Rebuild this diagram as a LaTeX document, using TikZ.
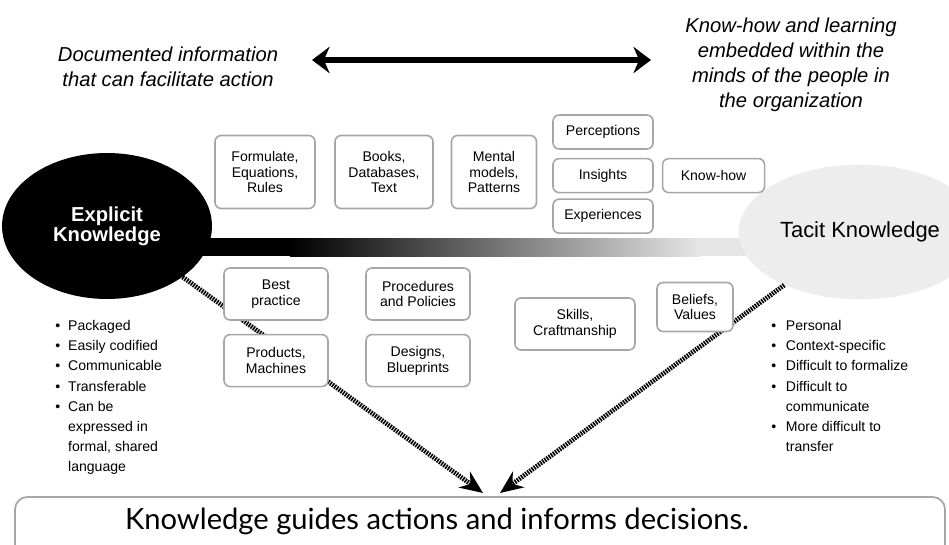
\documentclass[tikz,border=0pt]{standalone}
\usepackage{fontspec}
\setmainfont{Liberation Sans}
\newfontfamily\humanist{Lato}
\usetikzlibrary{positioning, arrows.meta, shapes.geometric}

\begin{document}
\begin{tikzpicture}[x=0.02cm, y=-0.02cm, font=\fontsize{8}{9}\selectfont]

        % Styles
        \tikzstyle{card} = [draw=gray!70, line width=0.9pt, fill=white, rounded corners=3.5pt, align=center, inner sep=1pt]
        \tikzstyle{hatch} = [line width=2.7pt, dash pattern=on 0.9pt off 0.6pt, -{Stealth[length=13pt, width=11pt]}]
        \tikzstyle{side} = [font=\fontsize{11.5}{14.2}\selectfont\itshape, align=center]
        \tikzstyle{points} = [anchor=north west, inner sep=0pt, font=\fontsize{8}{11.5}\selectfont]

        \useasboundingbox (0,0) rectangle (949,544);
        \clip (0,0) rectangle (949,544);

        % --- TOP: THE SPECTRUM ---
        \node[side] (doc) at (168,67) {Documented information\\that can facilitate action};
        \node[side] (mind) at (791,65) {Know-how and learning\\embedded within the\\minds of the people in\\the organization};
        \coordinate (spanL) at (312,60);
        \coordinate (spanR) at (651,60);
        \draw[line width=3.4pt, {Stealth[length=10pt, width=15pt]}-{Stealth[length=10pt, width=15pt]}] (spanL) -- (spanR);

        % --- GRADIENT BAR ---
        \fill[black] (150,238) rectangle (290,256);
        \shade[left color=black, right color=gray!20] (290,238) rectangle (700,256);
        \fill[gray!20] (700,238) rectangle (800,256);

        % --- THE TWO KINDS ---
        \node[ellipse, fill=black, text=white, minimum width=4.2cm, minimum height=2.92cm, align=center,
              font=\fontsize{11.5}{11.5}\selectfont\bfseries] (explicit) at (107,226) {Explicit\\Knowledge};
        \node[ellipse, fill=gray!14, minimum width=3.9cm, minimum height=2.7cm,
              font=\fontsize{12.5}{13}\selectfont] (tacit) at (860,232) {Tacit Knowledge};

        % --- HATCHED ARROWS (under the cards) ---
        \coordinate (hitL) at (483,493);
        \coordinate (hitR) at (500,493);
        \draw[hatch] (explicit.-34) -- (hitL);
        \draw[hatch] (tacit.-145) -- (hitR);

        % --- CARDS ---
        \node[card, minimum width=2.0cm, minimum height=1.46cm] (formula) at (265,172) {Formulate,\\Equations,\\Rules};
        \node[card, minimum width=1.96cm, minimum height=1.46cm] (books) at (384,172) {Books,\\Databases,\\Text};
        \node[card, minimum width=1.7cm, minimum height=1.46cm] (mental) at (494,172) {Mental\\models,\\Patterns};

        \node[card, minimum width=2.0cm, minimum height=0.68cm] (percep) at (603,132) {Perceptions};
        \node[card, minimum width=2.0cm, minimum height=0.68cm, below=0.16cm of percep] (insight) {Insights};
        \node[card, minimum width=2.0cm, minimum height=0.68cm, below=0.1cm of insight] (exper) {Experiences};
        \node[card, minimum width=2.04cm, minimum height=0.68cm, right=0.16cm of insight] (knowhow) {Know-how};

        \node[card, minimum width=2.08cm, minimum height=1.04cm] (best) at (276,294) {Best\\practice};
        \node[card, minimum width=2.08cm, minimum height=1.04cm, below=0.26cm of best] (products) {Products,\\Machines};
        \node[card, minimum width=2.08cm, minimum height=1.04cm] (proced) at (418,294) {Procedures\\and Policies};
        \node[card, minimum width=2.08cm, minimum height=1.04cm, below=0.26cm of proced] (designs) {Designs,\\Blueprints};

        \node[card, minimum width=2.4cm, minimum height=1.04cm] (skills) at (575,324) {Skills,\\Craftmanship};
        \node[card, minimum width=1.52cm, minimum height=0.98cm] (beliefs) at (695,307) {Beliefs,\\Values};

        % --- PROPERTIES ---
        \node[points] (explicitpts) at (55,316) {\begin{tabular}{@{}l@{\hspace{4.5pt}}l@{}}
            \textbullet & Packaged\\
            \textbullet & Easily codified\\
            \textbullet & Communicable\\
            \textbullet & Transferable\\
            \textbullet & Can be\\
                        & expressed in\\
                        & formal, shared\\
                        & language
        \end{tabular}};
        \node[points] (tacitpts) at (771,316) {\begin{tabular}{@{}l@{\hspace{5.5pt}}l@{}}
            \textbullet & Personal\\
            \textbullet & Context-specific\\
            \textbullet & Difficult to formalize\\
            \textbullet & Difficult to\\
                        & communicate\\
            \textbullet & More difficult to\\
                        & transfer
        \end{tabular}};

        % --- OUTCOME ---
        \draw[draw=gray!70, line width=1pt, rounded corners=7pt] (15,497) rectangle (945,600);
        \node[font=\humanist\fontsize{16.6}{19}\selectfont] (goal) at (437,521) {Knowledge guides actions and informs decisions.};

    \end{tikzpicture}
\end{document}
